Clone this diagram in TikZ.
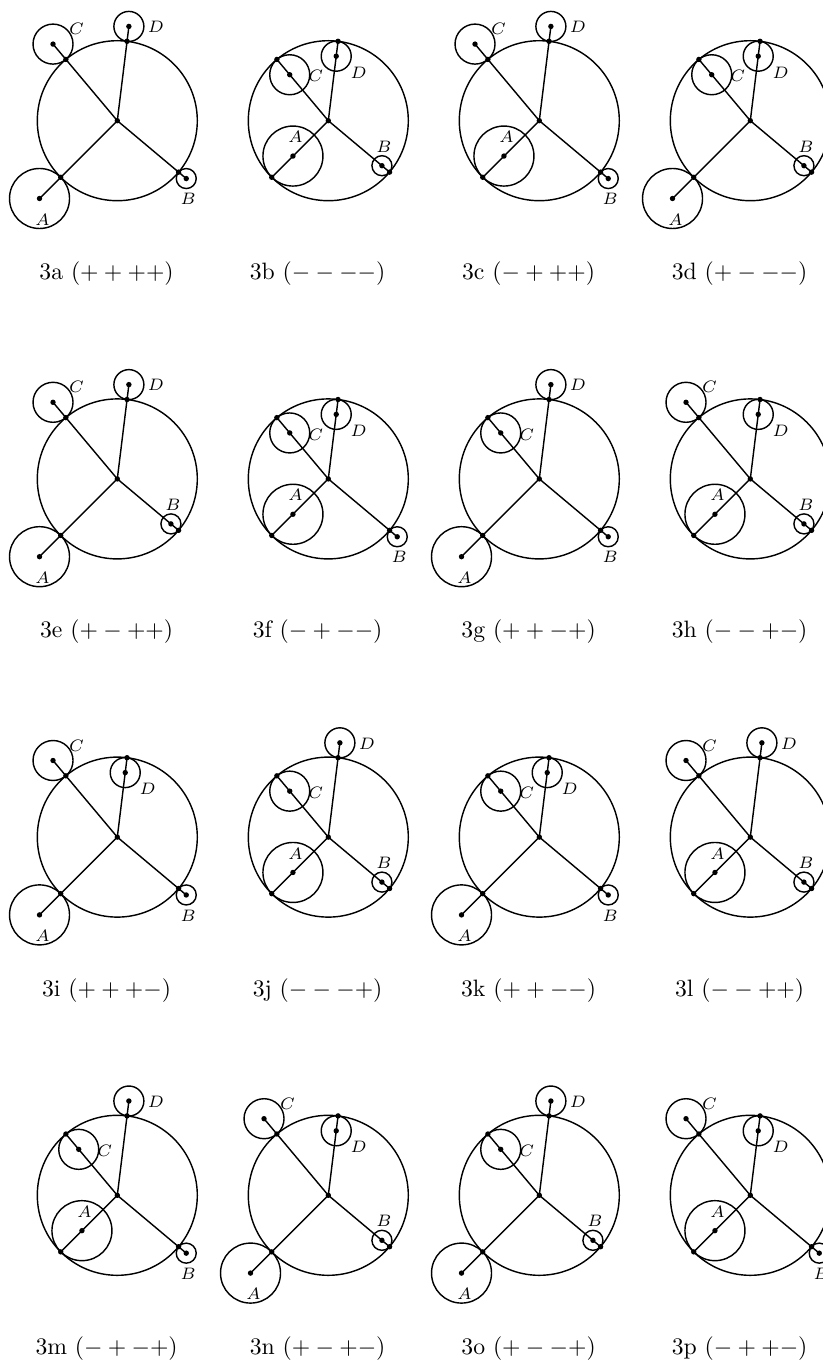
\documentclass[tikz,border=0pt]{standalone}
\usetikzlibrary{calc}
\tikzset{
  lbl/.style={inner sep=0pt, font=\fontsize{7.4}{9}\selectfont},
  capt/.style={inner sep=0pt, font=\fontsize{10}{12}\selectfont},
  ring/.style={draw, line width=0.6pt},
  ray/.style={draw, line width=0.6pt},
  dot/.style={fill=black},
}
% signs: o = outside (+), i = inside (-)
\def\sgno{1}\def\sgni{-1}
% label offsets (px, y up)
\def\offAox{3}\def\offAoy{-21}\def\offAix{2.5}\def\offAiy{19}
\def\offBox{2}\def\offBoy{-20.5}\def\offBix{2}\def\offBiy{19}
\def\offCox{23.5}\def\offCoy{15}\def\offCix{26}\def\offCiy{-1.5}
\def\offDox{27}\def\offDoy{-0.7}\def\offDix{22.5}\def\offDiy{-16.5}
\newcommand{\smallc}[5]{%
  \edef\sg{\csname sgn#5\endcsname}%
  \edef\ox{\csname off#2#5x\endcsname}%
  \edef\oy{\csname off#2#5y\endcsname}%
  \pgfmathsetmacro\dd{80+(\sg)*#4}%
  \coordinate (#1-t#2) at ($(#1-O)+(#3:80)$);
  \coordinate (#1-c#2) at ($(#1-O)+(#3:\dd)$);
  \path[ray] (#1-O) -- (#1-t#2) -- (#1-c#2);
  \path[ring] (#1-c#2) circle[radius=#4];
  \fill[dot] (#1-t#2) circle[radius=2.7];
  \fill[dot] (#1-c#2) circle[radius=2.7];
  \node[lbl] (#1-l#2) at ($(#1-c#2)+(\ox,\oy)$) {$#2$};
}
\begin{document}
\begin{tikzpicture}[x=0.4219pt,y=0.4219pt]
\useasboundingbox (0,0) rectangle (823,-1361);
\clip (0,0) rectangle (823,-1361);
\foreach \id/\col/\row/\sa/\sb/\sc/\sd/\capt in {
  a/0/0/o/o/o/o/(++++),
  b/1/0/i/i/i/i/(----),
  c/2/0/i/o/o/o/(-+++),
  d/3/0/o/i/i/i/(+---),
  e/0/1/o/i/o/o/(+-++),
  f/1/1/i/o/i/i/(-+--),
  g/2/1/o/o/i/o/(++-+),
  h/3/1/i/i/o/i/(--+-),
  i/0/2/o/o/o/i/(+++-),
  j/1/2/i/i/i/o/(---+),
  k/2/2/o/o/i/i/(++--),
  l/3/2/i/i/o/o/(--++),
  m/0/3/i/o/i/o/(-+-+),
  n/1/3/o/i/o/i/(+-+-),
  o/2/3/o/i/i/o/(+--+),
  p/3/3/i/o/o/i/(-++-)}{
  \pgfmathsetmacro\cx{117.3+211*\col}
  \pgfmathsetmacro\cy{-(120.7+358.2*\row)}
  \coordinate (\id-O) at (\cx,\cy);
  \path[ring] (\id-O) circle[radius=80];
  \smallc{\id}{A}{225}{30}{\sa}
  \smallc{\id}{B}{320}{10}{\sb}
  \smallc{\id}{C}{130}{20}{\sc}
  \smallc{\id}{D}{83}{15}{\sd}
  \fill[dot] (\id-O) circle[radius=2.7];
  \node[capt] (\id-cap) at (\cx-10.7,\cy-153) {3\id\ $\capt$};
}
\end{tikzpicture}
\end{document}
